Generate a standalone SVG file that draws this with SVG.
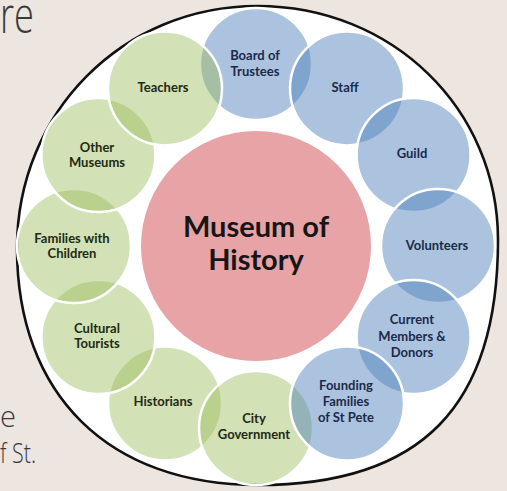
<svg xmlns="http://www.w3.org/2000/svg" width="507" height="491" viewBox="0 0 507 491">
<style>
.bg{fill:#ece5e0}
.frame{fill:#ffffff;stroke:#111111;stroke-width:2.6}
.g{fill:#9bbb59;fill-opacity:0.44;stroke:#ffffff;stroke-width:2.5}
.b{fill:#4f81bd;fill-opacity:0.48;stroke:#ffffff;stroke-width:2.5}
.hub{fill:#e8a3a6;stroke:#ffffff;stroke-width:2}
.lg{font-family:Lato,'Liberation Sans',sans-serif;font-weight:bold;font-size:13px;text-anchor:middle;fill:#1f2a12}
.lb{font-family:Lato,'Liberation Sans',sans-serif;font-weight:bold;font-size:13px;text-anchor:middle;fill:#1b2a4a}
.hubt{font-family:Lato,'Liberation Sans',sans-serif;font-weight:bold;font-size:29px;text-anchor:middle;fill:#161616}
.side{font-family:'Open Sans','Liberation Sans',sans-serif;font-weight:300;fill:#3a3a3a}
</style>
<rect class="bg" x="0" y="0" width="507" height="491"/>
<text class="side" x="0" y="33" font-size="50" textLength="34" lengthAdjust="spacingAndGlyphs">re</text>
<text class="side" x="0" y="427" font-size="30" textLength="16" lengthAdjust="spacingAndGlyphs">e</text>
<text class="side" x="0" y="463" font-size="28" textLength="36" lengthAdjust="spacingAndGlyphs">f St.</text>
<path class="frame" d="M257.5 6 C392.2 6 498 109 498 240 C498 406.6 421.2 485 258 485 C108.6 485 17 395 17 248 C17 112.5 122.8 6 257.5 6 Z"/>
<g id="connectors"/>
<g id="board"><circle class="b" cx="256" cy="64" r="56"/></g>
<g id="staff"><circle class="b" cx="347" cy="88.4" r="57"/></g>
<g id="guild"><circle class="b" cx="413.6" cy="155" r="57"/></g>
<g id="volunteers"><circle class="b" cx="438" cy="246" r="57"/></g>
<g id="current"><circle class="b" cx="413.6" cy="337" r="57"/></g>
<g id="historians"><circle class="g" cx="165" cy="403.6" r="57"/></g>
<g id="city"><circle class="g" cx="256" cy="428" r="57"/></g>
<g id="founding"><circle class="b" cx="347" cy="403.6" r="57"/></g>
<g id="cultural"><circle class="g" cx="98.4" cy="337" r="57"/></g>
<g id="families"><circle class="g" cx="74" cy="246" r="57"/></g>
<g id="other"><circle class="g" cx="98.4" cy="155" r="57"/></g>
<g id="teachers"><circle class="g" cx="165" cy="88.4" r="57"/></g>
<g id="hub"><circle class="hub" cx="256" cy="246" r="116"/>
<text class="hubt" x="256" y="237">Museum of</text>
<text class="hubt" x="256" y="270">History</text></g>
<g id="labels">
<text class="lb" x="255" y="60">Board of</text>
<text class="lb" x="255" y="76">Trustees</text>
<text class="lb" x="345" y="92">Staff</text>
<text class="lb" x="412" y="158">Guild</text>
<text class="lb" x="437" y="250">Volunteers</text>
<text class="lb" x="412" y="324">Current</text>
<text class="lb" x="412" y="341">Members &amp;</text>
<text class="lb" x="412" y="357">Donors</text>
<text class="lb" x="346" y="390">Founding</text>
<text class="lb" x="346" y="406">Families</text>
<text class="lb" x="346" y="422">of St Pete</text>
<text class="lg" x="254" y="423">City</text>
<text class="lg" x="254" y="439">Government</text>
<text class="lg" x="163" y="406">Historians</text>
<text class="lg" x="97" y="333">Cultural</text>
<text class="lg" x="97" y="348">Tourists</text>
<text class="lg" x="72" y="243">Families with</text>
<text class="lg" x="72" y="258">Children</text>
<text class="lg" x="97" y="152">Other</text>
<text class="lg" x="97" y="167">Museums</text>
<text class="lg" x="163" y="92">Teachers</text>
</g>
</svg>
